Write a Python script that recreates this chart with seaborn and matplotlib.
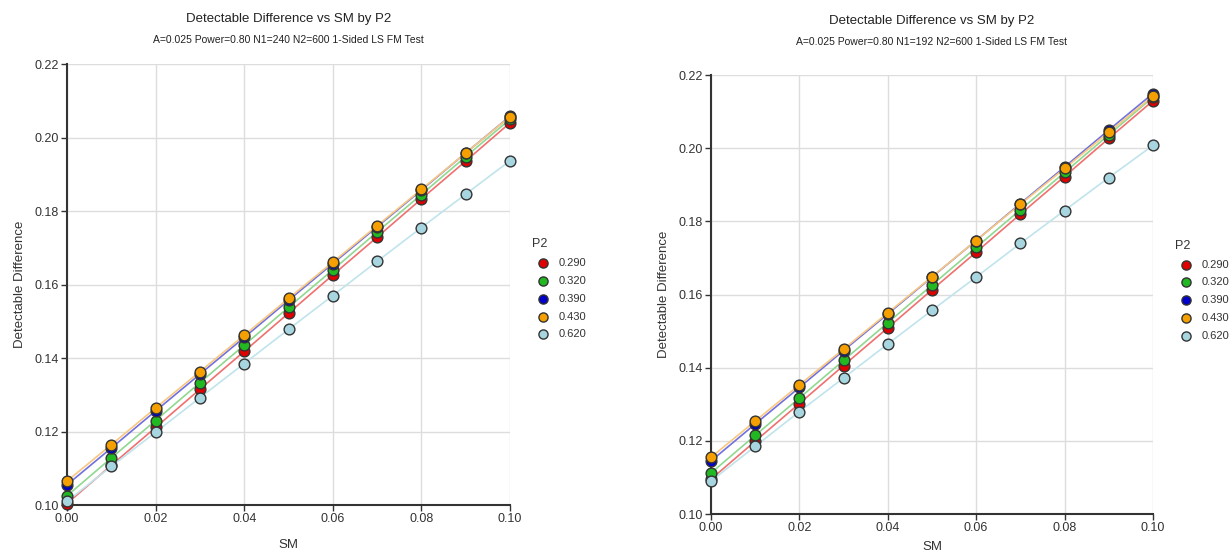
import numpy as np
import pandas as pd
import matplotlib
matplotlib.use("Agg")
import matplotlib.pyplot as plt
import seaborn as sns

sm = [0.00, 0.01, 0.02, 0.03, 0.04, 0.05, 0.06, 0.07, 0.08, 0.09, 0.10]
p2_labels = ["0.290", "0.320", "0.390", "0.430", "0.620"]

left_vals = {
    "0.290": [0.1004, 0.1108, 0.1211, 0.1315, 0.1418, 0.1522, 0.1626, 0.1729, 0.1833, 0.1936, 0.2040],
    "0.320": [0.1025, 0.1128, 0.1230, 0.1333, 0.1435, 0.1538, 0.1640, 0.1743, 0.1845, 0.1948, 0.2050],
    "0.390": [0.1055, 0.1155, 0.1256, 0.1356, 0.1456, 0.1557, 0.1657, 0.1757, 0.1857, 0.1958, 0.2058],
    "0.430": [0.1065, 0.1164, 0.1264, 0.1363, 0.1462, 0.1562, 0.1661, 0.1760, 0.1859, 0.1958, 0.2057],
    "0.620": [0.1010, 0.1105, 0.1198, 0.1292, 0.1385, 0.1478, 0.1570, 0.1663, 0.1755, 0.1846, 0.1937],
}
right_vals = {
    "0.290": [0.1095, 0.1199, 0.1302, 0.1406, 0.1509, 0.1613, 0.1716, 0.1820, 0.1923, 0.2027, 0.2130],
    "0.320": [0.1112, 0.1215, 0.1317, 0.1420, 0.1523, 0.1626, 0.1729, 0.1832, 0.1934, 0.2037, 0.2140],
    "0.390": [0.1145, 0.1246, 0.1346, 0.1447, 0.1547, 0.1648, 0.1748, 0.1849, 0.1949, 0.2050, 0.2150],
    "0.430": [0.1155, 0.1254, 0.1353, 0.1451, 0.1550, 0.1649, 0.1748, 0.1847, 0.1945, 0.2044, 0.2143],
    "0.620": [0.1090, 0.1185, 0.1280, 0.1372, 0.1465, 0.1557, 0.1648, 0.1740, 0.1830, 0.1920, 0.2008],
}

titles = ["Detectable Difference vs SM by P2", "Detectable Difference vs SM by P2"]
subtitles = ["A=0.025 Power=0.80 N1=240 N2=600 1-Sided LS FM Test",
             "A=0.025 Power=0.80 N1=192 N2=600 1-Sided LS FM Test"]
x_ticks = [0.00, 0.02, 0.04, 0.06, 0.08, 0.10]
y_ticks = [0.10, 0.12, 0.14, 0.16, 0.18, 0.20, 0.22]

marker_colors = ["#e00000", "#22b822", "#0000c8", "#f5a000", "#a8d6e0"]
line_colors = ["#f07070", "#90d890", "#7070e0", "#f8c880", "#c0e4ec"]

sns.set_theme(style="white")
plt.rcParams["font.family"] = ["Liberation Sans", "DejaVu Sans"]

fig = plt.figure(figsize=(12.29, 5.54), dpi=100)
positions = [[0.0545, 0.0884, 0.3605, 0.796], [0.5785, 0.0722, 0.3596, 0.792]]
datasets = [left_vals, right_vals]
title_y = [0.965, 0.962]
legend_y = [0.49, 0.51]
xlabel_pad = [10, 5]

for i, (pos, vals) in enumerate(zip(positions, datasets)):
    ax = fig.add_axes(pos)
    rows = []
    for lab in p2_labels:
        for x, y in zip(sm, vals[lab]):
            rows.append({"SM": x, "DD": y, "P2": lab})
    df = pd.DataFrame(rows)
    sns.lineplot(data=df, x="SM", y="DD", hue="P2", hue_order=p2_labels,
                 palette=line_colors, linewidth=1.2, legend=False, ax=ax, zorder=2)
    for lab, mc in zip(p2_labels, marker_colors):
        sub = df[df["P2"] == lab]
        sns.scatterplot(data=sub, x="SM", y="DD", color=mc, s=60,
                        edgecolor="#333333", linewidth=1.0, ax=ax, zorder=3,
                        label=lab, clip_on=False)
    ax.set_xlim(0, 0.10)
    ax.set_ylim(0.10, 0.22)
    ax.set_xticks(x_ticks)
    ax.set_yticks(y_ticks)
    ax.set_xticklabels([f"{v:.2f}" for v in x_ticks])
    ax.set_yticklabels([f"{v:.2f}" for v in y_ticks])
    ax.grid(True, color="#dddddd", linewidth=1.0)
    ax.set_axisbelow(True)
    for s in ["top", "right"]:
        ax.spines[s].set_visible(False)
    for s in ["left", "bottom"]:
        ax.spines[s].set_color("#333333")
        ax.spines[s].set_linewidth(1.5)
    ax.tick_params(axis="both", which="both", direction="out", length=4,
                   width=1, color="#333333", labelsize=9, labelcolor="#333333",
                   left=True, bottom=True, pad=2)
    ax.set_xlabel("SM", fontsize=9.5, color="#333333", labelpad=xlabel_pad[i])
    ax.set_ylabel("Detectable Difference", fontsize=9.5, color="#333333", labelpad=6)
    cx = pos[0] + pos[2] / 2
    fig.text(cx, title_y[i], titles[i], ha="center", va="center", fontsize=9.5, color="#222222")
    fig.text(cx, title_y[i] - 0.037, subtitles[i], ha="center", va="center", fontsize=7.5, color="#222222")
    leg = ax.legend(title="P2", loc="center left", bbox_to_anchor=(1.04, legend_y[i]),
                    frameon=False, fontsize=8, title_fontsize=9, handletextpad=0.4,
                    labelspacing=0.7, markerscale=0.85, borderaxespad=0)
    leg._legend_box.align = "left"
    for t in leg.get_texts():
        t.set_color("#333333")
    leg.get_title().set_color("#333333")

fig.savefig("out.png", dpi=100)
